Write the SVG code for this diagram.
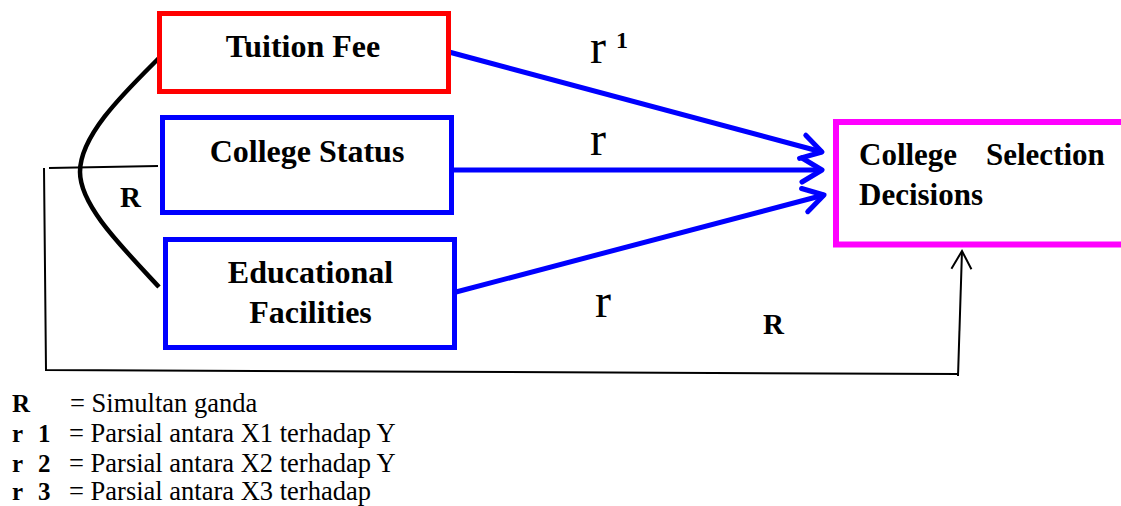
<svg xmlns="http://www.w3.org/2000/svg" width="1121" height="506" viewBox="0 0 1121 506">
<style>
.box{fill:#fff;}
.lbl{font-family:"Liberation Serif","Times New Roman",serif;font-weight:bold;font-size:32px;fill:#000;}
.rl{font-family:"Liberation Serif","Times New Roman",serif;font-size:48px;fill:#000;}
.leg{font-family:"Liberation Serif","Times New Roman",serif;font-size:26.5px;fill:#000;}
.legb{font-family:"Liberation Serif","Times New Roman",serif;font-size:25px;font-weight:bold;fill:#000;}
.sup{font-family:"Liberation Serif","Times New Roman",serif;font-size:24px;font-weight:bold;fill:#000;}
.blue{stroke:#0000ff;stroke-width:5;fill:none;}
.thin{stroke:#000;stroke-width:2;fill:none;}
</style>
<defs>
<marker id="ah" markerUnits="userSpaceOnUse" viewBox="-26 -16 30 32" markerWidth="30" markerHeight="32" refX="0" refY="0" orient="auto" overflow="visible">
<path d="M-20,-12 L0,0 L-20,12" fill="none" stroke="#0000ff" stroke-width="5" stroke-linecap="round" stroke-linejoin="round"/>
</marker>
<marker id="ak" markerUnits="userSpaceOnUse" viewBox="-22 -12 26 24" markerWidth="26" markerHeight="24" refX="0" refY="0" orient="auto" overflow="visible">
<path d="M-18,-10 L0,0 L-18,10" fill="none" stroke="#000" stroke-width="2"/>
</marker>
</defs>
<rect width="1121" height="506" fill="#fff"/>
<g id="connectors">
<line class="blue" x1="449" y1="52" x2="822" y2="152" marker-end="url(#ah)"/>
<line class="blue" x1="453" y1="170" x2="822" y2="170" marker-end="url(#ah)"/>
<line class="blue" x1="456" y1="292" x2="824" y2="195" marker-end="url(#ah)"/>
<path d="M159,58 C125,92 80,135 80,172 C80,205 120,245 159,287" fill="none" stroke="#000" stroke-width="4.5"/>
<line class="thin" x1="49" y1="168" x2="158" y2="166"/>
<path class="thin" d="M44,168 L46,370 L958,374"/>
<line class="thin" x1="958" y1="376" x2="962" y2="251" marker-end="url(#ak)"/>
<text class="rl" x="590" y="63">r</text>
<text class="sup" x="616" y="48">1</text>
<text class="rl" x="590" y="155">r</text>
<text class="rl" x="595" y="317">r</text>
<text class="lbl" x="120" y="207" style="font-size:29px">R</text>
<text class="lbl" x="763" y="334" style="font-size:29px">R</text>
</g>
<g id="tuition-fee">
<rect class="box" x="159.5" y="13.5" width="289" height="78" stroke="#ff0000" stroke-width="5"/>
<text class="lbl" x="303" y="57" text-anchor="middle">Tuition Fee</text>
</g>
<g id="college-status">
<rect class="box" x="162.5" y="117.5" width="289" height="95" stroke="#0000ff" stroke-width="5"/>
<text class="lbl" x="307" y="162" text-anchor="middle">College Status</text>
</g>
<g id="educational-facilities">
<rect class="box" x="165.5" y="239.5" width="289" height="108" stroke="#0000ff" stroke-width="5"/>
<text class="lbl" x="310.5" y="283" text-anchor="middle">Educational</text>
<text class="lbl" x="310.5" y="323" text-anchor="middle">Facilities</text>
</g>
<g id="college-selection-decisions">
<rect class="box" x="836" y="122" width="300" height="122.5" stroke="#ff00ff" stroke-width="6"/>
<text class="lbl" style="font-size:31px" y="165"><tspan x="859">College</tspan><tspan x="986">Selection</tspan></text>
<text class="lbl" style="font-size:31px" x="859" y="205">Decisions</text>
</g>
<g id="legend">
<text class="legb" x="12" y="412">R</text>
<text class="leg" x="70" y="412">= Simultan ganda</text>
<text class="legb" x="12" y="442">r</text><text class="legb" x="38" y="442">1</text>
<text class="leg" x="69" y="442">= Parsial antara X1 terhadap Y</text>
<text class="legb" x="12" y="472">r</text><text class="legb" x="38" y="472">2</text>
<text class="leg" x="69" y="472">= Parsial antara X2 terhadap Y</text>
<text class="legb" x="12" y="500">r</text><text class="legb" x="38" y="500">3</text>
<text class="leg" x="69" y="500">= Parsial antara X3 terhadap</text>
</g>
</svg>
